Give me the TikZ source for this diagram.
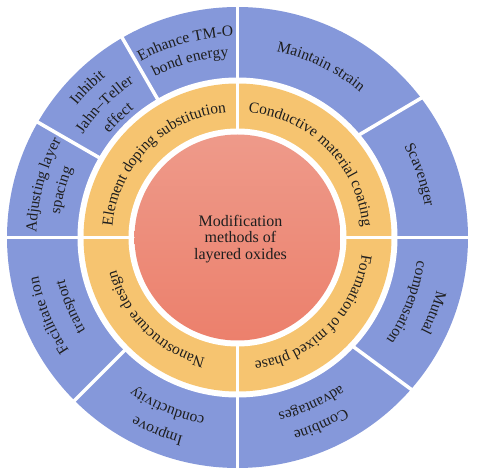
\documentclass[tikz,border=0pt]{standalone}
\usepackage{fontspec}
\setmainfont{Liberation Serif}
\usetikzlibrary{decorations.text}

\definecolor{coreTop}{RGB}{238,154,138}
\definecolor{coreBot}{RGB}{236,128,108}
\definecolor{ringYel}{RGB}{246,196,112}
\definecolor{ringBlu}{RGB}{133,152,218}
\definecolor{txt}{RGB}{30,30,30}
\newcommand\ringfont{\fontsize{15.5pt}{18pt}\selectfont}
% radius, middle angle, half span, text
\newcommand\arclabel[4]{%
  \path[decorate,decoration={text along path,text align=center,text color=txt,
    text={|\ringfont|#4}}]
    ({#2+#3}:#1pt) arc[start angle={#2+#3},end angle={#2-#3},radius=#1pt];}

\begin{document}
\begin{tikzpicture}[gap/.style={white,line width=3.5pt}]
\fill[white] (-237.5pt,-235.5pt) rectangle (242.5pt,237.5pt);
\fill[ringBlu] (0,0) circle[radius=230.5pt];
\fill[white] (0,0) circle[radius=160pt];
\fill[ringYel] (0,0) circle[radius=154pt];
\fill[white] (0,0) circle[radius=109pt];
\shade[top color=coreTop,bottom color=coreBot] (0,0) circle[radius=103pt];
\foreach \a in {0,90,180,270}
  \draw[gap] (\a:106pt) -- (\a:234pt);
\foreach \a in {120,150,225}
  \draw[gap] (\a:157pt) -- (\a:234pt);
\draw[gap] (40.3:157pt) -- (37.1:234pt);
\draw[gap] (-43.4:157pt) -- (-41.1:234pt);
\node[align=center,text=txt,font=\fontsize{16pt}{16.3pt}\selectfont] (core) at (3pt,-1.5pt)
  {Modification\\methods of\\layered oxides};
\arclabel{125.5}{135}{50}{Element doping substitution}
\arclabel{125.5}{45}{50}{Conductive material coating}
\arclabel{125.5}{-45}{50}{Formation of mixed phase}
\arclabel{125.5}{-135}{50}{Nanostructure design}
\arclabel{201}{165}{40}{Adjusting layer}
\arclabel{179}{165}{40}{spacing}
\arclabel{208}{135}{40}{Inhibit}
\arclabel{186}{135}{40}{Jahn–Teller}
\arclabel{165}{135}{40}{effect}
\arclabel{201}{105}{40}{Enhance TM-O}
\arclabel{181}{105}{40}{bond energy}
\arclabel{190}{64}{40}{Maintain strain}
\arclabel{190}{19}{40}{Scavenger}
\arclabel{206}{-21}{40}{Mutual}
\arclabel{181}{-21}{40}{compensation}
\arclabel{202}{-66}{40}{Combine}
\arclabel{180}{-66}{40}{advantages}
\arclabel{206}{-112.5}{40}{Improve}
\arclabel{182}{-112.5}{40}{conductivity}
\arclabel{203}{-157.5}{40}{Facilitate ion}
\arclabel{178}{-157.5}{40}{transport}
\end{tikzpicture}
\end{document}
